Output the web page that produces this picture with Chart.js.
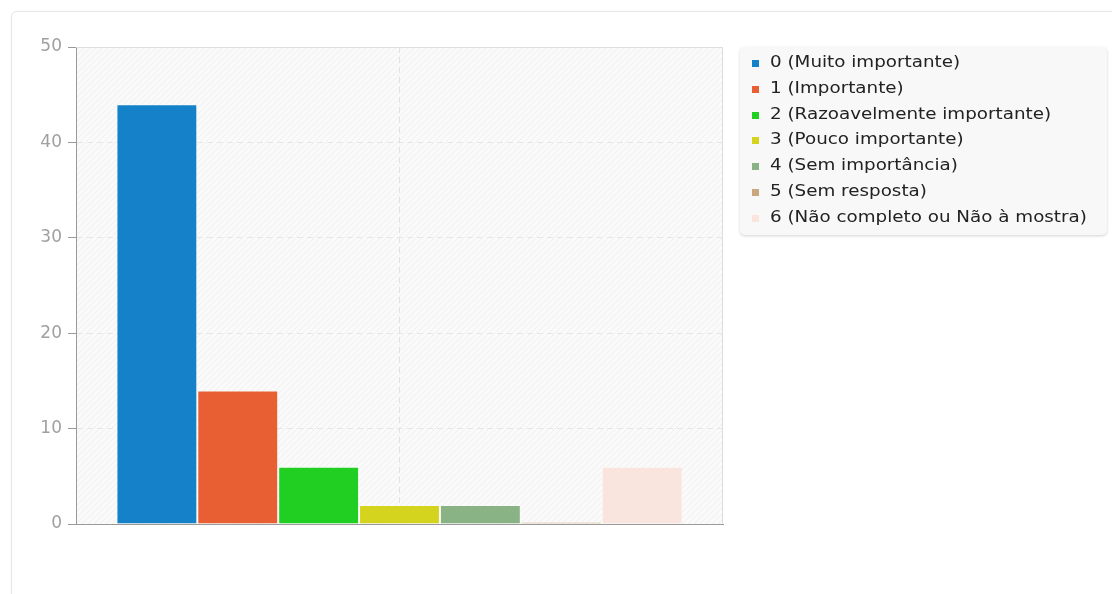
<!DOCTYPE html>
<html>
<head>
<meta charset="utf-8">
<script src="https://cdn.jsdelivr.net/npm/chart.js@4/dist/chart.umd.min.js"></script>
<style>
  body { margin: 0; background: #fff; font-family: 'DejaVu Sans', sans-serif; }
  .card {
    position: absolute; left: 11px; top: 11px; width: 1200px; height: 700px;
    border: 1px solid #e6e6e6; border-radius: 6px; box-shadow: 0 0 2px rgba(0,0,0,0.05);
  }
  .wrap { position: absolute; left: 0; top: 0; width: 740px; height: 594px; }
  #legend {
    position: absolute; left: 740px; top: 47px; width: 367px; height: 188px;
    background: #f8f8f8; border-radius: 5px; box-shadow: 0 1px 3px rgba(0,0,0,0.18);
    box-sizing: border-box; padding-top: 3px;
  }
  #legend .row { position: relative; height: 25.8px; line-height: 25.8px; font-size: 15px; color: #222; white-space: nowrap; }
  #legend .sw { position: absolute; left: 12px; top: 10px; width: 7px; height: 7px; }
  #legend .txt { position: absolute; left: 30px; top: 0; transform: scaleX(1.22); transform-origin: 0 50%; }
</style>
</head>
<body>
<div class="card"></div>
<div class="wrap"><canvas id="chart"></canvas></div>
<div id="legend"></div>
<script>
// ── data ──
const categories = [''];
const seriesLabels = [
  '0 (Muito importante)',
  '1 (Importante)',
  '2 (Razoavelmente importante)',
  '3 (Pouco importante)',
  '4 (Sem importância)',
  '5 (Sem resposta)',
  '6 (Não completo ou Não à mostra)'
];
const seriesValues = [44, 14, 6, 2, 2, 0, 6];
const seriesColors = ['#1581C8', '#E75F33', '#21CF23', '#D4D41E', '#89B385', '#C9A880', '#FAE5DE'];
const yMax = 50;
const yStep = 10;

// hatched plot background
function hatchPattern(ctx) {
  const c = document.createElement('canvas');
  c.width = 6; c.height = 6;
  const p = c.getContext('2d');
  p.fillStyle = '#fafafa';
  p.fillRect(0, 0, 6, 6);
  p.strokeStyle = '#efefef';
  p.lineWidth = 1;
  p.beginPath();
  p.moveTo(0, 6); p.lineTo(6, 0);
  p.moveTo(-3, 3); p.lineTo(3, -3);
  p.moveTo(3, 9); p.lineTo(9, 3);
  p.stroke();
  return ctx.createPattern(c, 'repeat');
}

const plotBg = {
  id: 'plotBg',
  beforeDraw(chart) {
    const { ctx, chartArea: a } = chart;
    ctx.save();
    ctx.fillStyle = hatchPattern(ctx);
    ctx.fillRect(a.left, a.top, a.right - a.left, a.bottom - a.top);
    ctx.restore();
  },
  afterDraw(chart) {
    const { ctx, chartArea: a } = chart;
    ctx.save();
    ctx.strokeStyle = '#dedede';
    ctx.lineWidth = 1;
    ctx.beginPath();
    ctx.moveTo(a.left, a.top + 0.5); ctx.lineTo(a.right, a.top + 0.5);
    ctx.moveTo(a.right - 0.5, a.top); ctx.lineTo(a.right - 0.5, a.bottom);
    ctx.stroke();
    ctx.restore();
  }
};

new Chart(document.getElementById('chart'), {
  type: 'bar',
  data: {
    labels: categories,
    datasets: seriesLabels.map((label, i) => ({
      label: label,
      data: [seriesValues[i]],
      backgroundColor: seriesColors[i],
      borderColor: 'rgba(255,255,255,0.35)',
      borderWidth: 1,
      minBarLength: 2,
    })),
  },
  options: {
    responsive: true,
    maintainAspectRatio: false,
    animation: false,
    layout: { padding: { left: 20, right: 17, top: 47, bottom: 70 } },
    datasets: { bar: { barPercentage: 1, categoryPercentage: 0.875 } },
    plugins: { legend: { display: false }, tooltip: { enabled: false } },
    scales: {
      x: {
        ticks: { display: false },
        grid: { offset: false, color: '#e2e2e2', drawTicks: false },
        border: { color: '#9a9a9a', width: 1, dash: [6, 4] },
        afterFit(scale) { scale.height = 0; },
      },
      y: {
        min: 0, max: yMax,
        ticks: { stepSize: yStep, color: '#a0a0a0', padding: 6, font: { family: 'DejaVu Sans', size: 17 } },
        grid: { color: '#e6e6e6', tickColor: '#9a9a9a', tickLength: 8 },
        border: { color: '#9a9a9a', width: 1, dash: [6, 4] },
        afterFit(scale) { scale.width = 56; },
      },
    },
  },
  plugins: [plotBg],
});

// legend built from the same arrays
const legendEl = document.getElementById('legend');
seriesLabels.forEach((label, i) => {
  const row = document.createElement('div');
  row.className = 'row';
  const sw = document.createElement('span');
  sw.className = 'sw';
  sw.style.background = seriesColors[i];
  const txt = document.createElement('span');
  txt.className = 'txt';
  txt.textContent = label;
  row.appendChild(sw);
  row.appendChild(txt);
  legendEl.appendChild(row);
});
</script>
</body>
</html>
